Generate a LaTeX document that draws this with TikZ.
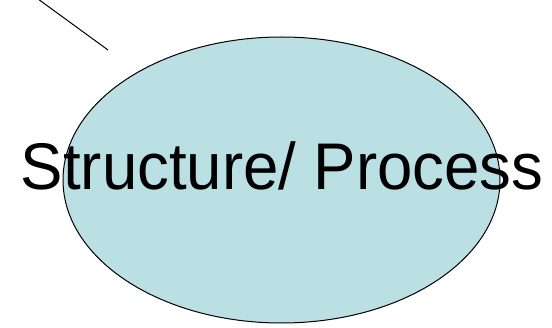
\documentclass[tikz,border=0pt]{standalone}
\usepackage{fontspec}
\setmainfont{Liberation Sans}
\usetikzlibrary{shapes.geometric}
\definecolor{fillblue}{HTML}{BAE0E3}
\tikzset{blob/.style={ellipse, draw=black, line width=1pt, fill=fillblue, inner sep=0pt, minimum width=437pt, minimum height=286pt},
bigtext/.style={font=\fontsize{66pt}{75pt}\selectfont, inner sep=0pt, anchor=base, xscale=0.963}}
\begin{document}
\begin{tikzpicture}[x=1pt,y=1pt]
\useasboundingbox (0,0) rectangle (552,327);
\node[blob] (e) at (281.5,147) {};
\node[bigtext] (t) at (282.2,137) {Structure/ Process};
\coordinate (p1) at (38,328);
\coordinate (p2) at (108,277);
\draw[line width=1pt] (p1) -- (p2);
\end{tikzpicture}
\end{document}
